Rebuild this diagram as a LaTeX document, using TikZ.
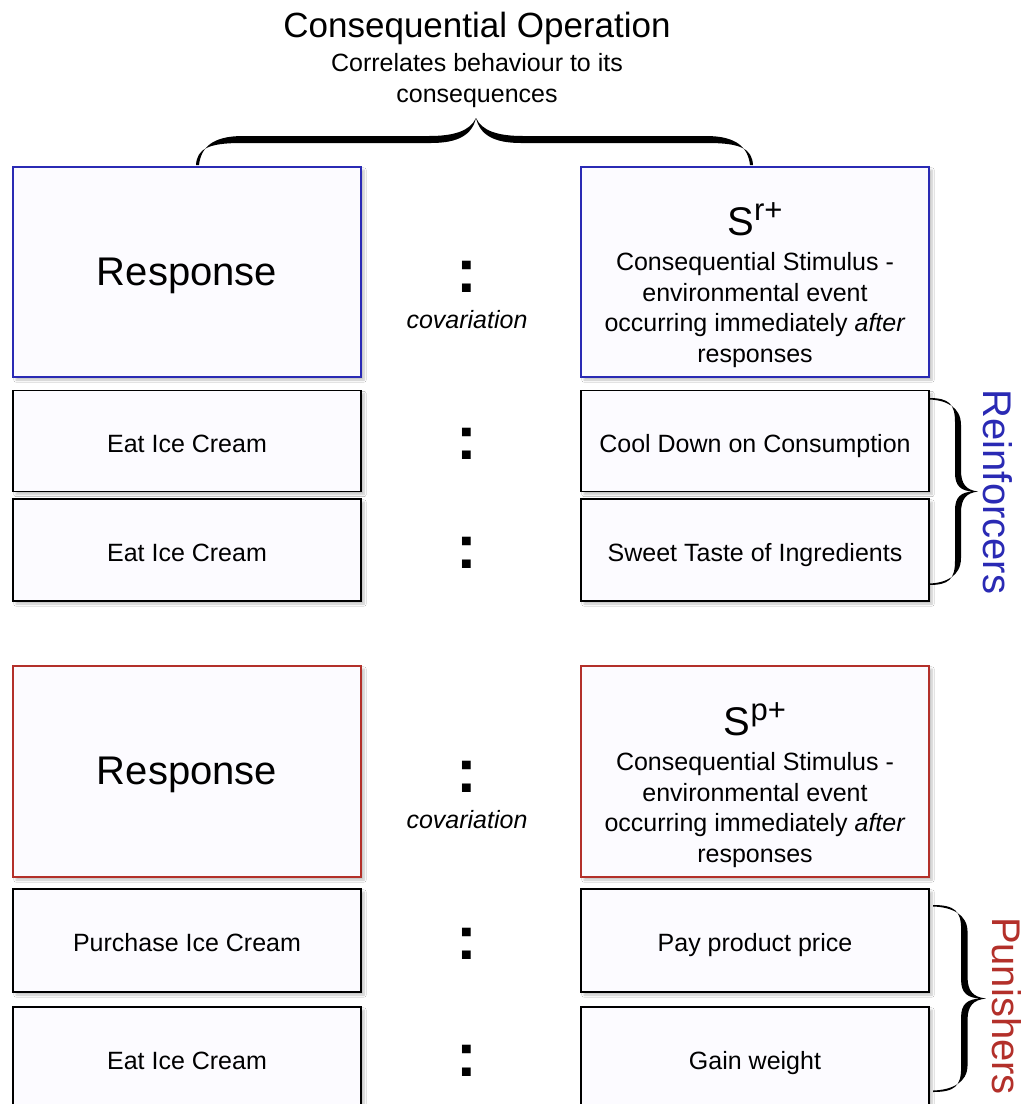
\documentclass[tikz,border=0pt]{standalone}
\usepackage{fontspec}
\setmainfont{Liberation Sans}
\usetikzlibrary{shadows.blur}

\definecolor{boxfill}{HTML}{FCFBFF}
\definecolor{repblue}{HTML}{2A2AB4}
\definecolor{punred}{HTML}{B3302A}

\tikzset{
  cell/.style={draw=black, line width=1.8pt, fill=boxfill, minimum width=348pt,
    inner sep=0pt, font=\fontsize{25}{30}\selectfont, text height=22pt, text depth=0pt,
    blur shadow={shadow xshift=3pt, shadow yshift=-3pt, shadow blur steps=6, shadow opacity=24}},
  bigcell/.style={cell, minimum height=210pt},
  rowcell/.style={cell, minimum height=101pt},
  pairsep/.style={inner sep=0pt, font=\fontsize{62}{62}\selectfont\bfseries},
  covar/.style={inner sep=0pt, font=\fontsize{25}{30}\selectfont\itshape},
  stimtext/.style={inner sep=0pt, align=center, anchor=north, font=\fontsize{25}{30.5}\selectfont},
  stimsym/.style={inner sep=0pt, anchor=base},
  grouplabel/.style={inner sep=0pt, rotate=-90, font=\fontsize{40}{40}\selectfont},
  bracefill/.style={fill=black},
}

% right-pointing curly brace, 187 units tall, tip to the right
\newcommand{\sidebrace}{%
  \fill[bracefill] (0,0) .. controls (20,0) and (26,6) .. (26,24) -- (26,75)
    .. controls (26,88) and (32,93) .. (44,93.5)
    .. controls (32,94) and (26,99) .. (26,112) -- (26,163)
    .. controls (26,181) and (20,187) .. (0,187) -- (0,185.5)
    .. controls (17,185) and (32,178) .. (32,160) -- (32,115)
    .. controls (32,101) and (37,95) .. (49,93.5)
    .. controls (37,92) and (32,86) .. (32,72) -- (32,27)
    .. controls (32,9) and (17,2) .. (0,1.5) -- cycle;}

\begin{document}
\begin{tikzpicture}[x=1pt, y=-1pt]
\useasboundingbox (0,0) rectangle (1029,1104);
\clip (0,0) rectangle (1029,1104);
\fill[white] (0,0) rectangle (1029,1104);

% heading
\node[inner sep=0pt, anchor=base, font=\fontsize{35}{40}\selectfont] (title) at (477,37) {Consequential Operation};
\node[inner sep=0pt, anchor=north, align=center, font=\fontsize{25}{31}\selectfont] (subtitle) at (477,52.7)
  {Correlates behaviour to its\\consequences};

% brace over the response / stimulus pair
\begin{scope}[shift={(196,165)}, yscale=-1]
  \fill[bracefill] (0,0) .. controls (1,16) and (12,22) .. (45,22) -- (235,22)
    .. controls (262,22) and (276,30) .. (280,47)
    .. controls (284,30) and (298,22) .. (325,22) -- (512,22)
    .. controls (545,22) and (556,16) .. (557,0) -- (554,0)
    .. controls (552,18) and (540,29) .. (510,29) -- (327,29)
    .. controls (302,29) and (286,34) .. (280,47)
    .. controls (274,34) and (258,29) .. (233,29) -- (47,29)
    .. controls (17,29) and (5,18) .. (3,0) -- cycle;
\end{scope}

% ---------- reinforcement block ----------
\node[bigcell, draw=repblue, font=\fontsize{40}{40}\selectfont, text height=26pt] (resp1) at (187,272) {Response};
\node[bigcell, draw=repblue] (stim1) at (755,272) {};
\node[stimsym] (sym1) at (755,235) {\fontsize{40}{40}\selectfont S\raisebox{15pt}{\fontsize{31}{31}\selectfont r+}};
\node[stimtext] (desc1) at (755,252.5)
  {Consequential Stimulus -\\environmental event\\occurring immediately \textit{after}\\responses};
\node[pairsep] (sep1) at (467,276.7) {:};
\node[covar] (cov1) at (467,320) {covariation};

\node[rowcell] (ra1) at (187,441) {Eat Ice Cream};
\node[rowcell] (sa1) at (755,441) {Cool Down on Consumption};
\node[pairsep] (sepa1) at (467,444) {:};

\node[rowcell, minimum height=102pt] (ra2) at (187,550) {Eat Ice Cream};
\node[rowcell, minimum height=102pt] (sa2) at (755,550) {Sweet Taste of Ingredients};
\node[pairsep] (sepa2) at (467,553) {:};

\begin{scope}[shift={(929,398)}]
  \sidebrace
\end{scope}
\node[grouplabel, text=repblue] (reinf) at (998,492) {Reinforcers};

% ---------- punishment block ----------
\node[bigcell, draw=punred, minimum height=211pt, font=\fontsize{40}{40}\selectfont, text height=26pt] (resp2) at (187,771.5) {Response};
\node[bigcell, draw=punred, minimum height=211pt] (stim2) at (755,771.5) {};
\node[stimsym] (sym2) at (755,735) {\fontsize{40}{40}\selectfont S\raisebox{15pt}{\fontsize{31}{31}\selectfont p+}};
\node[stimtext] (desc2) at (755,752.5)
  {Consequential Stimulus -\\environmental event\\occurring immediately \textit{after}\\responses};
\node[pairsep] (sep2) at (467,776.7) {:};
\node[covar] (cov2) at (467,820) {covariation};

\node[rowcell, minimum height=103pt] (rb1) at (187,940.5) {Purchase Ice Cream};
\node[rowcell, minimum height=103pt] (sb1) at (755,940.5) {Pay product price};
\node[pairsep] (sepb1) at (467,944) {:};

\node[rowcell, minimum height=103pt] (rb2) at (187,1058.5) {Eat Ice Cream};
\node[rowcell, minimum height=103pt] (sb2) at (755,1058.5) {Gain weight};
\node[pairsep] (sepb2) at (467,1061) {:};

\begin{scope}[shift={(933,905)}, xscale=1.08]
  \sidebrace
\end{scope}
\node[grouplabel, text=punred] (punish) at (1007,1006) {Punishers};
\end{tikzpicture}
\end{document}
